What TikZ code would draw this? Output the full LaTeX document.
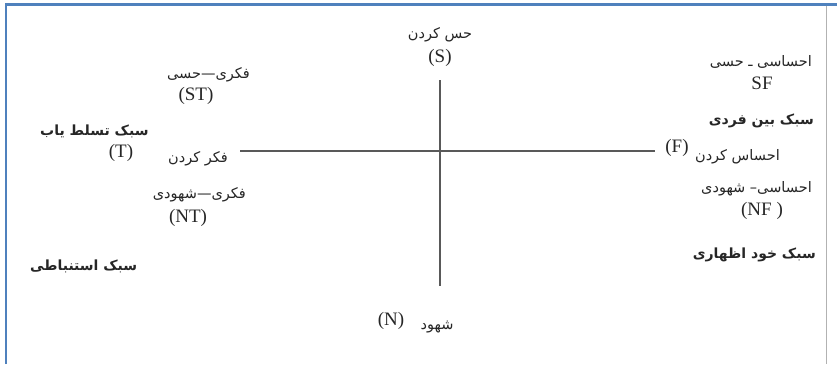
\documentclass[tikz,border=0pt]{standalone}
\usepackage{fontspec}
\setmainfont{Liberation Serif}
\newfontfamily\arabicfont[Script=Arabic]{DejaVu Sans}
\TeXXeTstate=1
\tikzset{
  fa/.style={font=\arabicfont\fontsize{14.5}{16}\selectfont, inner sep=0pt, text=black!85},
  fab/.style={font=\arabicfont\bfseries\fontsize{14}{16}\selectfont, inner sep=0pt, text=black!85},
  la/.style={font=\fontsize{19}{21}\selectfont, inner sep=0pt, text=black!85},
  axis/.style={draw=black!65, line width=1.6pt},
  frameblue/.style={draw={rgb,255:red,79;green,129;blue,189}, line width=2.5pt},
  framegray/.style={draw=black!30, line width=1pt}
}
\begin{document}
\begin{tikzpicture}[x=1pt,y=-1pt]
\useasboundingbox (0,0) rectangle (837,364);
% frame
\coordinate (ftl) at (6,4.5);
\coordinate (ftr) at (837,4.5);
\coordinate (fbl) at (6,364);
\coordinate (grt) at (826,6);
\coordinate (grb) at (826,364);
\draw[frameblue] (fbl) -- (ftl) -- (ftr);
\draw[framegray] (grt) -- (grb);
% axes
\coordinate (vtop) at (440,80);
\coordinate (vbot) at (440,286);
\coordinate (hl) at (240,151);
\coordinate (hr) at (655,151);
\draw[axis] (vtop) -- (vbot);
\draw[axis] (hl) -- (hr);
% top
\node[fa] (sfa) at (440,35) {\beginR حس کردن\endR};
\node[la] (s) at (440,58) {(S)};
% bottom
\node[la] (n) at (391,321) {(N)};
\node[fa] (nfa) at (437,327) {\beginR شهود\endR};
% left
\node[fa, anchor=east] (stfa) at (250,75) {\beginR فکری—حسی\endR};
\node[la] (st) at (196,96) {(ST)};
\node[fab, anchor=west] (stsb) at (40,131) {\beginR سبک تسلط یاب\endR};
\node[la] (t) at (121,153) {(T)};
\node[fa, anchor=east] (tfa) at (228,159) {\beginR فکر کردن\endR};
\node[fa, anchor=east] (ntfa) at (246,195) {\beginR فکری—شهودی\endR};
\node[la] (nt) at (188,218) {(NT)};
\node[fab, anchor=west] (ntsb) at (30,266) {\beginR سبک استنباطی\endR};
% right
\node[fa, anchor=east] (sffa) at (812,62) {\beginR احساسی ـ حسی\endR};
\node[la] (sf) at (762,83) {SF};
\node[fab, anchor=east] (sfsb) at (814,121) {\beginR سبک بین فردی\endR};
\node[la] (f) at (677,148) {(F)};
\node[fa, anchor=east] (ffa) at (780,157) {\beginR احساس کردن\endR};
\node[fa, anchor=east] (nffa) at (812,189) {\beginR احساسی– شهودی\endR};
\node[la] (nf) at (762,211) {(NF )};
\node[fab, anchor=east] (nfsb) at (816,255) {\beginR سبک خود اظهاری\endR};
\end{tikzpicture}
\end{document}
